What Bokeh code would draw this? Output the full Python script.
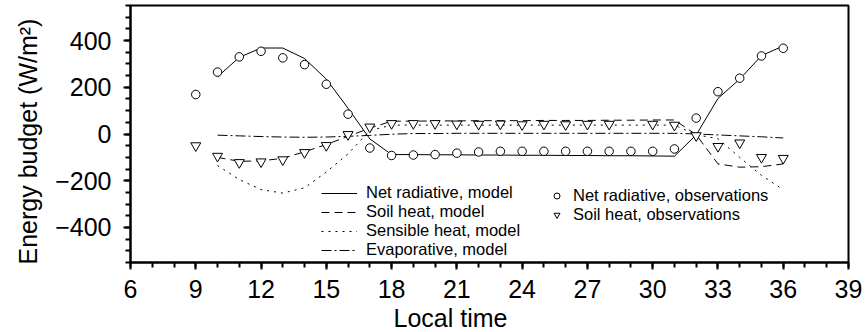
from bokeh.plotting import figure
from bokeh.models import FixedTicker, Legend, LegendItem, Title
from bokeh.embed import file_html
from bokeh.resources import INLINE

# Model output, hourly from 10 to 36 (local time, continuing past midnight)
model_hours = list(range(10, 37))
net_rad_model = [245, 328, 368, 368, 323, 235, 110, -21, -88,
                 -88, -89, -89, -90, -90, -91, -91, -92, -92, -93, -93, -94, -95,
                 -4, 152, 235, 335, 377]
soil_heat_model = [-100, -117, -115, -104, -76, -45, -10, 25, 55,
                   55, 56, 56, 57, 57, 57, 58, 58, 58, 59, 59, 60, 60,
                   -3, -128, -142, -140, -128]
sensible_heat_model = [-135, -195, -238, -253, -230, -163, -85, 15, 38,
                       38, 38, 38, 38, 38, 38, 38, 38, 38, 38, 38, 38, 38,
                       -3, -20, -100, -177, -238]
evaporative_model = [-5, -8, -11, -13, -14, -13, -10, -6, -1,
                     2, 2, 3, 3, 3, 3, 3, 3, 3, 3, 3, 3, 3,
                     0, -4, -8, -12, -17]

# Observations
net_obs_hours = list(range(9, 37))
net_rad_obs = [169, 265, 330, 354, 326, 297, 213, 85, -60, -92,
               -90, -88, -82, -77, -74, -74, -74, -74, -74, -74, -74, -74, -64,
               68, 181, 239, 334, 367]
soil_obs_hours = list(range(9, 29)) + list(range(30, 37))
soil_heat_obs = [-50, -95, -122, -119, -110, -79, -49, -2, 30, 45,
                 45, 45, 43, 42, 43, 40, 42, 40, 42, 42,
                 42, 38, -7, -53, -38, -100, -104]

x_major = [6, 9, 12, 15, 18, 21, 24, 27, 30, 33, 36, 39]
y_major = [-400, -200, 0, 200, 400]

FONT = "Liberation Sans"

p = figure(width=866, height=332, x_range=(6, 39), y_range=(-550, 550),
           output_backend="svg", toolbar_location=None,
           min_border_left=130, min_border_right=18,
           min_border_top=5, min_border_bottom=69)
p.grid.visible = False
p.outline_line_color = "black"
p.outline_line_width = 2
p.background_fill_color = "white"
p.border_fill_color = "white"

for ax in (p.xaxis[0], p.yaxis[0]):
    ax.axis_line_width = 2
    ax.axis_line_color = "black"
    ax.major_tick_in = 0
    ax.major_tick_out = 7
    ax.minor_tick_in = 0
    ax.minor_tick_out = 5
    ax.major_tick_line_width = 2
    ax.minor_tick_line_width = 2
    ax.major_tick_line_color = "black"
    ax.minor_tick_line_color = "black"
    ax.major_label_text_font = FONT
    ax.major_label_text_font_size = "25px"
    ax.major_label_text_color = "black"

p.xaxis.ticker = FixedTicker(ticks=x_major, minor_ticks=list(range(6, 40)))
p.yaxis.ticker = FixedTicker(ticks=y_major, minor_ticks=list(range(-550, 551, 50)))
p.yaxis.major_label_overrides = {v: str(v).replace("-", "\u2212") for v in y_major}
p.xaxis.major_label_standoff = 10
p.yaxis.major_label_standoff = 12

# Axis titles
xlab = Title(text="Local time", align="left", offset=263, standoff=2,
             vertical_align="bottom",
             text_font=FONT, text_font_size="25px", text_font_style="normal",
             text_color="black")
p.add_layout(xlab, "below")
ylab = Title(text="Energy budget (W/m\u00b2)", align="left", offset=-2, standoff=20,
             vertical_align="middle",
             text_font=FONT, text_font_size="25px", text_font_style="normal",
             text_color="black")
p.add_layout(ylab, "left")

# Model curves
r_net = p.line(model_hours, net_rad_model, line_color="black", line_width=1)
r_soil = p.line(model_hours, soil_heat_model, line_color="black", line_width=1,
                line_dash="8 5")
r_sens = p.line(model_hours, sensible_heat_model, line_color="black", line_width=1,
                line_dash="2 5")
r_evap = p.line(model_hours, evaporative_model, line_color="black", line_width=1,
                line_dash="10 3 2 3")

# Observations on top
r_net_obs = p.scatter(net_obs_hours, net_rad_obs, marker="circle", size=8.5,
                      line_color="black", fill_color="white", line_width=1)
r_soil_obs = p.scatter(soil_obs_hours, soil_heat_obs, marker="inverted_triangle",
                       size=10, line_color="black", fill_color="white", line_width=1)

common = dict(padding=0, spacing=-1, margin=0, border_line_color=None,
              background_fill_alpha=0, label_text_font=FONT,
              label_text_font_size="16.5px", label_text_color="black",
              label_height=16, label_standoff=9)

leg_models = Legend(items=[
    LegendItem(label="Net radiative, model", renderers=[r_net]),
    LegendItem(label="Soil heat, model", renderers=[r_soil]),
    LegendItem(label="Sensible heat, model", renderers=[r_sens]),
    LegendItem(label="Evaporative, model", renderers=[r_evap]),
], location=(191, 3), glyph_width=36, glyph_height=16, **common)
p.add_layout(leg_models)

leg_obs = Legend(items=[
    LegendItem(label="Net radiative, observations", renderers=[r_net_obs]),
    LegendItem(label="Soil heat, observations", renderers=[r_soil_obs]),
], location=(419, 38), glyph_width=15, glyph_height=15, **common)
p.add_layout(leg_obs)

open("out.html", "w").write(file_html(p, INLINE))
